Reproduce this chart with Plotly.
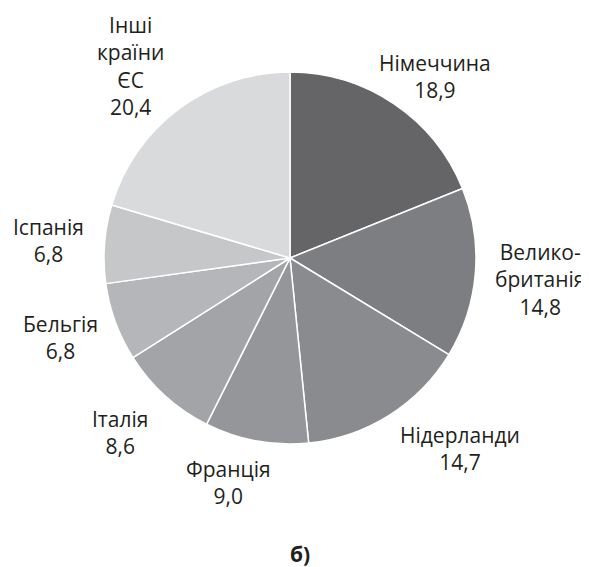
import plotly.graph_objects as go

countries = ["Німеччина", "Велико-<br>британія", "Нідерланди", "Франція", "Італія", "Бельгія", "Іспанія", "Інші<br>країни<br>ЄС"]
shares = [18.9, 14.8, 14.7, 9.0, 8.6, 6.8, 6.8, 20.4]
colors = ["#656567", "#7d7e82", "#8a8b8e", "#95969a", "#a3a4a7", "#b5b6b9", "#c6c7c9", "#d9dadc"]
caption = "б)"

W, H = 589, 567
OFF = 8  # page body margin
# label centres in page pixels
label_px = [(435, 76.5), (540, 279), (460, 448.5), (228, 482.5), (120, 432.5), (60, 337.5), (48, 240.5), (130, 66)]
cx, cy, r = 290 - OFF, 258 - OFF, 186


def px(x):
    return (x - OFF) / W


def py(y):
    return 1 - (y - OFF) / H


fig = go.Figure(go.Pie(
    labels=[c.replace("<br>", "") for c in countries],
    values=shares,
    sort=False,
    direction="clockwise",
    rotation=0,
    marker=dict(colors=colors, line=dict(color="white", width=1.5)),
    textinfo="none",
    hoverinfo="label+value",
    showlegend=False,
    domain=dict(x=[(cx - r) / W, (cx + r) / W], y=[(H - cy - r) / H, (H - cy + r) / H]),
))

font = dict(family="Open Sans", size=21, color="#231f20")
for name, v, (x, y) in zip(countries, shares, label_px):
    fig.add_annotation(
        x=px(x), y=py(y), xref="paper", yref="paper",
        xanchor="center", yanchor="middle",
        text=f"{name}<br>{str(v).replace('.', ',')}",
        showarrow=False, align="center", font=font,
    )

fig.add_annotation(x=px(300), y=py(554), xref="paper", yref="paper", text=f"<b>{caption}</b>",
                   xanchor="center", yanchor="middle", showarrow=False, font=font)

fig.update_layout(width=W, height=H, margin=dict(l=0, r=0, t=0, b=0),
                  paper_bgcolor="white", plot_bgcolor="white")
fig.write_html("out.html")
